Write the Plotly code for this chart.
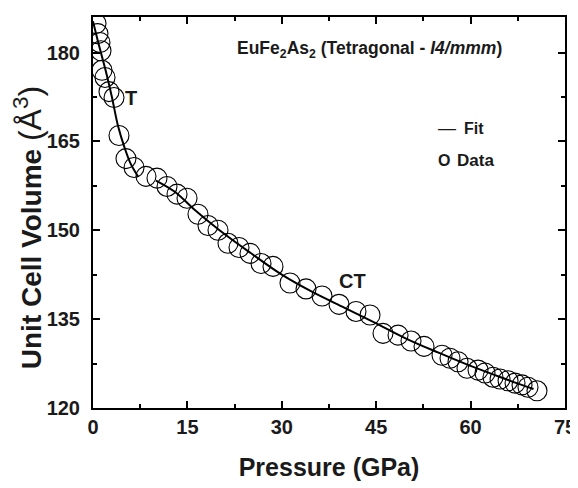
import plotly.graph_objects as go

# Data
pressure = [0.48, 0.79, 1.11, 1.27, 1.43, 1.91, 2.54, 3.34, 4.13, 5.24, 6.52, 8.42,
            10.17, 11.76, 13.35, 14.94, 16.68, 18.27, 19.86, 21.45, 23.20, 24.95,
            26.70, 28.60, 31.30, 33.85, 36.39, 39.09, 41.79, 44.02, 46.08, 48.47,
            50.53, 52.60, 55.46, 56.73, 58.00, 59.43, 61.18, 62.29, 63.56, 64.68,
            65.95, 67.06, 68.17, 69.12, 70.55]
volume = [184.9, 183.2, 181.7, 180.3, 177.0, 175.8, 173.4, 172.4, 166.0, 162.1, 160.6, 159.1,
          158.8, 157.4, 156.1, 155.4, 152.7, 150.8, 150.0, 147.8, 147.1, 146.1,
          144.4, 143.9, 141.1, 140.1, 138.9, 137.5, 136.3, 135.7, 132.6, 132.3,
          131.3, 130.4, 128.9, 128.4, 127.8, 126.7, 126.4, 125.9, 125.2, 124.9,
          124.6, 124.2, 123.9, 123.5, 122.9]

fit_t_pressure = [0, 1, 2, 3, 4, 5, 6, 7.2]
fit_t_volume = [185.3, 181.0, 177.0, 172.5, 167.5, 164.0, 161.2, 159.0]

fit_ct_pressure = [10.0, 13.0, 16.0, 20.0, 25.0, 30.0, 35.0, 40.0, 45.0, 50.0, 55.0, 60.0, 65.0, 70.0]
fit_ct_volume = [158.4, 156.5, 153.6, 150.1, 146.2, 142.5, 139.5, 136.9, 134.3, 131.6, 129.3, 127.1, 125.1, 123.2]

x_ticks = [0, 15, 30, 45, 60, 75]
y_ticks = [120, 135, 150, 165, 180]

FONT = "Liberation Sans, Arial, Helvetica, sans-serif"
TXT = "#1a1a1a"

fig = go.Figure()
fig.add_trace(go.Scatter(x=pressure, y=volume, mode="markers",
                         marker=dict(symbol="circle-open", size=20, color="black",
                                     line=dict(width=1.1, color="black")),
                         showlegend=False))
fig.add_trace(go.Scatter(x=fit_t_pressure, y=fit_t_volume, mode="lines",
                         line=dict(color="black", width=2, shape="spline"), showlegend=False))
fig.add_trace(go.Scatter(x=fit_ct_pressure, y=fit_ct_volume, mode="lines",
                         line=dict(color="black", width=2, shape="spline"), showlegend=False))

axis_common = dict(showline=True, linecolor="black", linewidth=2, mirror="ticks",
                   ticks="inside", ticklen=7, tickwidth=2, tickcolor="black",
                   showgrid=False, zeroline=False, automargin=False,
                   tickfont=dict(family=FONT, size=20, color=TXT),
                   minor=dict(ticks="inside", ticklen=4, tickwidth=1.5, tickcolor="black"))

fig.update_xaxes(range=[0, 75], tickvals=x_ticks, ticktext=["<b>%d</b>" % v for v in x_ticks],
                 minor_dtick=7.5,
                 title=dict(text="<b>Pressure (GPa)</b>", font=dict(family=FONT, size=25, color=TXT), standoff=21),
                 **axis_common)
fig.update_yaxes(range=[120, 186], tickvals=y_ticks, ticktext=["<b>%d</b>" % v for v in y_ticks],
                 minor_dtick=7.5, ticklabelstandoff=7,
                 **axis_common)

# y-axis title as rotated annotation for exact placement
fig.add_annotation(x=-0.138, y=0.462, xref="paper", yref="paper", showarrow=False,
                   textangle=-90, xanchor="center", yanchor="middle",
                   text="<b>Unit Cell Volume </b><span style='font-size:32px'>(Å<sup>3</sup>)</span>",
                   font=dict(family=FONT, size=28, color=TXT))

fig.add_annotation(x=0.585, y=0.916, xref="paper", yref="paper", showarrow=False, yanchor="middle",
                   text="<b>EuFe<sub>2</sub>As<sub>2</sub> (Tetragonal - <i>I4/mmm</i>)</b>",
                   font=dict(family=FONT, size=17.5, color=TXT))
fig.add_annotation(x=6.0, y=172.4, showarrow=False, text="<b>T</b>", yanchor="middle",
                   font=dict(family=FONT, size=20, color=TXT))
fig.add_annotation(x=41.2, y=141.5, showarrow=False, text="<b>CT</b>", yanchor="middle",
                   font=dict(family=FONT, size=20, color=TXT))
fig.add_annotation(x=0.727, y=0.716, xref="paper", yref="paper", showarrow=False,
                   xanchor="left", yanchor="middle",
                   text="—", font=dict(family=FONT, size=18, color=TXT))
fig.add_annotation(x=0.782, y=0.716, xref="paper", yref="paper", showarrow=False,
                   xanchor="left", yanchor="middle",
                   text="<b>Fit</b>", font=dict(family=FONT, size=16, color=TXT))
fig.add_annotation(x=0.727, y=0.632, xref="paper", yref="paper", showarrow=False,
                   xanchor="left", yanchor="middle",
                   text="<b>O</b>", font=dict(family=FONT, size=16, color=TXT))
fig.add_annotation(x=0.767, y=0.632, xref="paper", yref="paper", showarrow=False,
                   xanchor="left", yanchor="middle",
                   text="<b>Data</b>", font=dict(family=FONT, size=17, color=TXT))

# page body adds ~8px offset; margins compensate so the plot area sits at x 93-565, y 17-408
fig.update_layout(width=578, height=488, margin=dict(l=85, r=21, t=9, b=88),
                  paper_bgcolor="white", plot_bgcolor="white")

fig.write_html("out.html")
